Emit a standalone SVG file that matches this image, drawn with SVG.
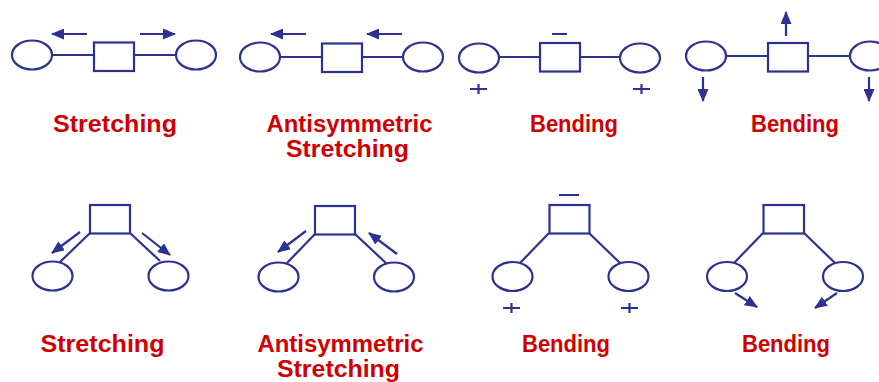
<svg xmlns="http://www.w3.org/2000/svg" width="879" height="382" viewBox="0 0 879 382">
<defs>
<marker id="ah" markerUnits="userSpaceOnUse" markerWidth="13" markerHeight="11" refX="12" refY="5.5" orient="auto"><path d="M0,0 L13,5.5 L0,11 Z" fill="#2e3192"/></marker>
<style>
.s{fill:none;stroke:#2e3192;stroke-width:2.2}
.a{fill:none;stroke:#2e3192;stroke-width:2.2;marker-end:url(#ah)}
.l{font-family:"Liberation Sans",Arial,sans-serif;font-weight:bold;font-size:23px;fill:#d00000;text-anchor:middle}
</style>
</defs>
<rect width="879" height="382" fill="#fff"/>
<g id="connectors">
<line class="s" x1="52" y1="55" x2="94" y2="55"/><line class="s" x1="134" y1="55" x2="176" y2="55"/>
<line class="s" x1="280" y1="57" x2="322" y2="57"/><line class="s" x1="362" y1="57" x2="403" y2="57"/>
<line class="s" x1="499" y1="57" x2="540" y2="57"/><line class="s" x1="580" y1="57" x2="620" y2="57"/>
<line class="s" x1="726" y1="56" x2="768" y2="56"/><line class="s" x1="808" y1="56" x2="850" y2="56"/>
<line class="s" x1="90" y1="233" x2="60" y2="262"/><line class="s" x1="130" y1="233" x2="160" y2="261"/>
<line class="s" x1="315" y1="234" x2="287" y2="263"/><line class="s" x1="355" y1="234" x2="387" y2="264"/>
<line class="s" x1="549" y1="233" x2="520" y2="263"/><line class="s" x1="589" y1="233" x2="620" y2="263"/>
<line class="s" x1="763" y1="233" x2="734" y2="263"/><line class="s" x1="804" y1="233" x2="835" y2="263"/>
</g>
<g id="motion">
<line class="a" x1="87" y1="34" x2="52" y2="34"/><line class="a" x1="140" y1="34" x2="175" y2="34"/>
<line class="a" x1="306" y1="34" x2="271" y2="34"/><line class="a" x1="402" y1="34" x2="367" y2="34"/>
<line class="a" x1="786" y1="36" x2="786" y2="12"/><line class="a" x1="703" y1="77" x2="703" y2="101"/><line class="a" x1="869" y1="77" x2="869" y2="101"/>
<line class="a" x1="80" y1="232" x2="52" y2="253"/><line class="a" x1="142" y1="233" x2="170" y2="255"/>
<line class="a" x1="306" y1="231" x2="278" y2="252"/><line class="a" x1="397" y1="254" x2="369" y2="233"/>
<line class="a" x1="735" y1="293" x2="757" y2="307"/><line class="a" x1="837" y1="293" x2="815" y2="308"/>
<path class="s" d="M552,34 H567 M559,195 H579 M470,89 H487 M478.5,84 V94 M633,89 H650 M641.5,84 V94 M503,308 H520 M511.5,303 V313 M621,308 H638 M629.5,303 V313"/>
</g>
<g id="n1"><ellipse class="s" cx="32" cy="55" rx="20" ry="14.5"/><rect class="s" x="94" y="42.5" width="40" height="28.5"/><ellipse class="s" cx="196" cy="55" rx="20" ry="14.5"/><text class="l" x="115" y="132" textLength="124" lengthAdjust="spacingAndGlyphs">Stretching</text></g>
<g id="n2"><ellipse class="s" cx="260" cy="57" rx="20" ry="14.5"/><rect class="s" x="322" y="43.5" width="40" height="28.5"/><ellipse class="s" cx="423" cy="57" rx="20" ry="14.5"/><text class="l" x="349.5" y="132" textLength="166" lengthAdjust="spacingAndGlyphs">Antisymmetric</text><text class="l" x="347.5" y="157" textLength="123" lengthAdjust="spacingAndGlyphs">Stretching</text></g>
<g id="n3"><ellipse class="s" cx="479" cy="58" rx="20" ry="14.5"/><rect class="s" x="540" y="43" width="40" height="28.5"/><ellipse class="s" cx="640" cy="58" rx="20" ry="14.5"/><text class="l" x="574" y="132" textLength="88" lengthAdjust="spacingAndGlyphs">Bending</text></g>
<g id="n4"><ellipse class="s" cx="706" cy="56" rx="20" ry="14.5"/><rect class="s" x="768" y="43" width="40" height="28.5"/><ellipse class="s" cx="870" cy="56" rx="20" ry="14.5"/><text class="l" x="795" y="132" textLength="88" lengthAdjust="spacingAndGlyphs">Bending</text></g>
<g id="n5"><rect class="s" x="90" y="205" width="40" height="28.5"/><ellipse class="s" cx="52.5" cy="276" rx="20" ry="14.5"/><ellipse class="s" cx="168.5" cy="276" rx="20" ry="14.5"/><text class="l" x="102.5" y="352" textLength="124" lengthAdjust="spacingAndGlyphs">Stretching</text></g>
<g id="n6"><rect class="s" x="315" y="206" width="40" height="28.5"/><ellipse class="s" cx="278.5" cy="277" rx="20" ry="14.5"/><ellipse class="s" cx="394" cy="277" rx="20" ry="14.5"/><text class="l" x="340.5" y="352" textLength="166" lengthAdjust="spacingAndGlyphs">Antisymmetric</text><text class="l" x="338.5" y="377" textLength="123" lengthAdjust="spacingAndGlyphs">Stretching</text></g>
<g id="n7"><rect class="s" x="549.5" y="205" width="40" height="28.5"/><ellipse class="s" cx="512.5" cy="276.5" rx="20" ry="14.5"/><ellipse class="s" cx="628.5" cy="276.5" rx="20" ry="14.5"/><text class="l" x="566" y="352" textLength="88" lengthAdjust="spacingAndGlyphs">Bending</text></g>
<g id="n8"><rect class="s" x="763.5" y="205" width="40.5" height="28.5"/><ellipse class="s" cx="727" cy="276.5" rx="20" ry="14.5"/><ellipse class="s" cx="843" cy="276.5" rx="20" ry="14.5"/><text class="l" x="786" y="352" textLength="88" lengthAdjust="spacingAndGlyphs">Bending</text></g>
</svg>
